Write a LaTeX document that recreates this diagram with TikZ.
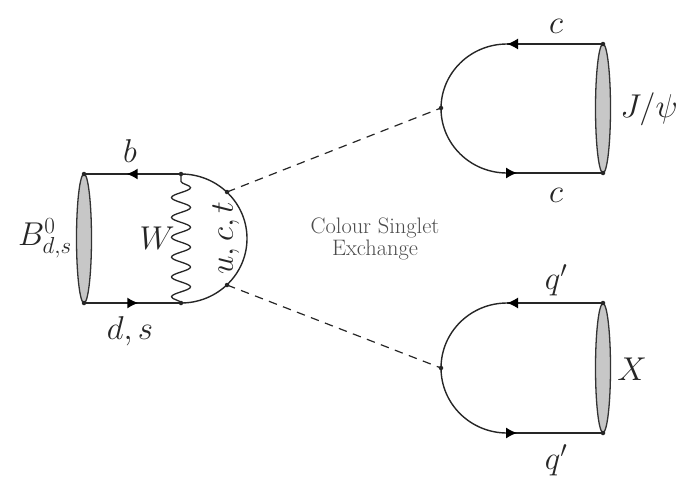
\documentclass[tikz,border=0pt]{standalone}
\usepackage{fix-cm}
\usetikzlibrary{shapes.geometric,decorations.pathmorphing,decorations.markings,arrows.meta}
\tikzset{
  x=1pt,y=-1pt,
  ink/.style={draw=black!85,line width=1.4pt},
  blob/.style={ellipse,draw=black!80,line width=1.3pt,fill=black!22,minimum width=15pt,minimum height=129pt,inner sep=0pt,outer sep=0pt},
  vtx/.style={circle,fill=black!85,minimum size=4.5pt,inner sep=0pt,outer sep=0pt},
  lab/.style={text=black!85,inner sep=0pt,font=\fontsize{33}{36}\selectfont},
  small/.style={text=black!70,inner sep=0pt,align=center,font=\fontsize{22.4}{21.5}\selectfont},
  fwd/.style={postaction={decorate},decoration={markings,mark=at position #1 with {\arrow[black]{Latex[length=11pt,width=11pt]}}}},
  dash line/.style={draw=black!85,line width=1.2pt,dash pattern=on 8.5pt off 6.5pt},
  wboson/.style={draw=black!85,line width=1.3pt,decorate,decoration={snake,segment length=19.85pt,amplitude=9.5pt}}
}
\begin{document}
\begin{tikzpicture}
\useasboundingbox (0,0) rectangle (684,482);
% left
\node[blob] (bB) at (84,238.5) {};
\node[vtx] (bt) at (84,174) {};
\node[vtx] (bb) at (84,303) {};
\node[vtx] (lt) at (181,174) {};
\node[vtx] (lb) at (181,303) {};
\node[vtx] (da) at (227,192) {};
\node[vtx] (db) at (227,285) {};
\draw[ink,fwd=0.56] (lt.center) -- (bt.center);
\draw[ink,fwd=0.56] (bb.center) -- (lb.center);
\draw[ink] (lt.center) arc[start angle=90,end angle=-90,x radius=66,y radius=-64.5];
\draw[wboson] (lb.center) -- (lt.center);
% upper right
\node[blob] (bJ) at (603,108.5) {};
\node[vtx] (jt) at (603,44) {};
\node[vtx] (jb) at (603,173) {};
\coordinate (ju) at (507,44);
\coordinate (jd) at (507,173);
\node[vtx] (jv) at (441,108) {};
\draw[ink,fwd=1] (jt.center) -- (ju);
\draw[ink] (ju) arc[start angle=90,end angle=270,x radius=66,y radius=-64.5];
\draw[ink,fwd=0.105] (jd) -- (jb.center);
% lower right
\node[blob] (bX) at (603,368) {};
\node[vtx] (xt) at (603,303) {};
\node[vtx] (xb) at (603,433) {};
\coordinate (xu) at (507,303);
\coordinate (xd) at (507,433);
\node[vtx] (xv) at (441,368) {};
\draw[ink,fwd=1] (xt.center) -- (xu);
\draw[ink] (xu) arc[start angle=90,end angle=270,x radius=66,y radius=-65];
\draw[ink,fwd=0.105] (xd) -- (xb.center);
% dashed
\draw[dash line] (da.center) -- (jv.center);
\draw[dash line] (db.center) -- (xv.center);
% labels
\node[lab] (tb) at (130,151) {$b$};
\node[lab] (tds) at (130,331) {$d,s$};
\node[lab,anchor=east] (tB) at (72,238) {$B^0_{d,s}$};
\node[lab] (tW) at (157,238) {$W$};
\node[lab,rotate=90] (tu) at (226,238) {$u,c,t$};
\node[lab] (tc1) at (556,26) {$c$};
\node[lab] (tc2) at (556,195) {$c$};
\node[lab] (tJ) at (649,109) {$J/\psi$};
\node[lab] (tq1) at (556,280) {$q'$};
\node[lab] (tq2) at (556,460) {$q'$};
\node[lab] (tX) at (632,369) {$X$};
\node[small] (tcs) at (375,239) {Colour Singlet\\Exchange};
\end{tikzpicture}
\end{document}
